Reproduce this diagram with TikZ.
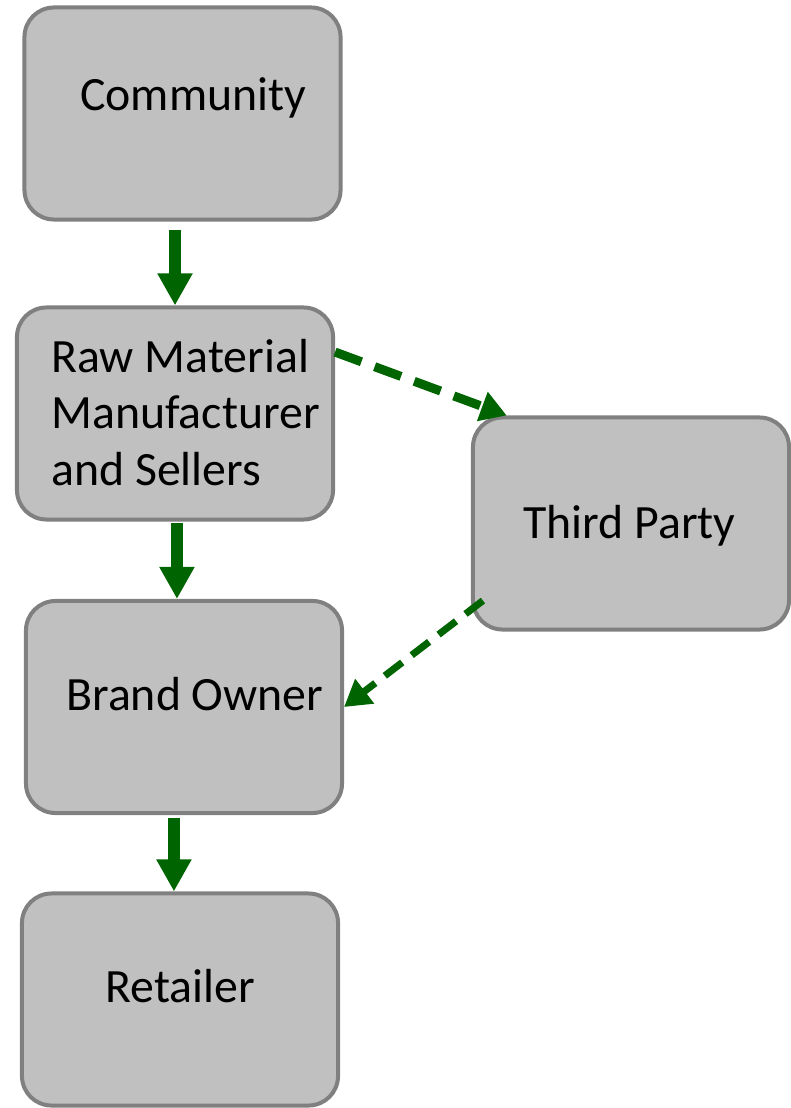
\documentclass[tikz,border=0pt]{standalone}
\usepackage{fontspec}
\setmainfont{Carlito}
\usepackage{xcolor}
\usetikzlibrary{arrows.meta}
\definecolor{boxfill}{HTML}{C0C0C0}
\definecolor{boxline}{HTML}{808080}
\definecolor{flowgreen}{RGB}{0,100,0}

\begin{document}
\begin{tikzpicture}[x=0.025cm, y=-0.025cm,
  box/.style={draw=boxline, fill=boxfill, line width=2.85pt, rounded corners=21pt,
              minimum width=7.9cm, minimum height=5.3cm, inner sep=0pt},
  txt/.style={font=\fontsize{34}{40.4}\selectfont, inner sep=0pt, align=left},
  flow/.style={draw=flowgreen, line width=8.5pt,
               -{Triangle[width=23.5pt, length=22.8pt]}},
  side/.style={draw=flowgreen, line width=#1, dash pattern=on 20pt off 10pt,
               -{Triangle[width=21pt, length=18.5pt]}},
  side/.default=6.4pt]
  \useasboundingbox (0,0) rectangle (790,1108);
  % left column: the supply chain
  \node[box] (comm)   at (182.5,113.5) {};
  \node[box] (raw)    at (175,413.5)   {};
  \node[box] (brand)  at (184,707)     {};
  \node[box] (retail) at (180,999.5)   {};
  % right: the outside party
  \node[box] (third)  at (631,523.5)   {};
  % texts
  \node[txt, anchor=base west] (comm-t)   at (80,111)     {Community};
  \node[txt, anchor=west]      (raw-t)    at (51,412.5)   {Raw Material\\Manufacturer\\and Sellers};
  \node[txt, anchor=base west] (third-t)  at (523,538)    {Third Party};
  \node[txt, anchor=base west] (brand-t)  at (66,710)     {Brand Owner};
  \node[txt, anchor=base west] (retail-t) at (105,1002)   {Retailer};
  % solid flow down the column
  \draw[flow] ([yshift=-6pt]raw.north |- comm.south) -- (raw.north);
  \draw[flow] ([xshift=1.4pt, yshift=-1pt]raw.south) -- ([xshift=1.4pt]raw.south |- brand.north);
  \draw[flow] ([xshift=-4.3pt, yshift=-2pt]retail.north |- brand.south) -- ([xshift=-4.3pt]retail.north);
  % dashed links through the third party
  \draw[side] (raw.21) -- (third.139);
  \draw[side=5pt, dash pattern=on 15.6pt off 8.5pt] ([xshift=8.5pt, yshift=22pt]third.south west) -- (brand.east);
\end{tikzpicture}
\end{document}
